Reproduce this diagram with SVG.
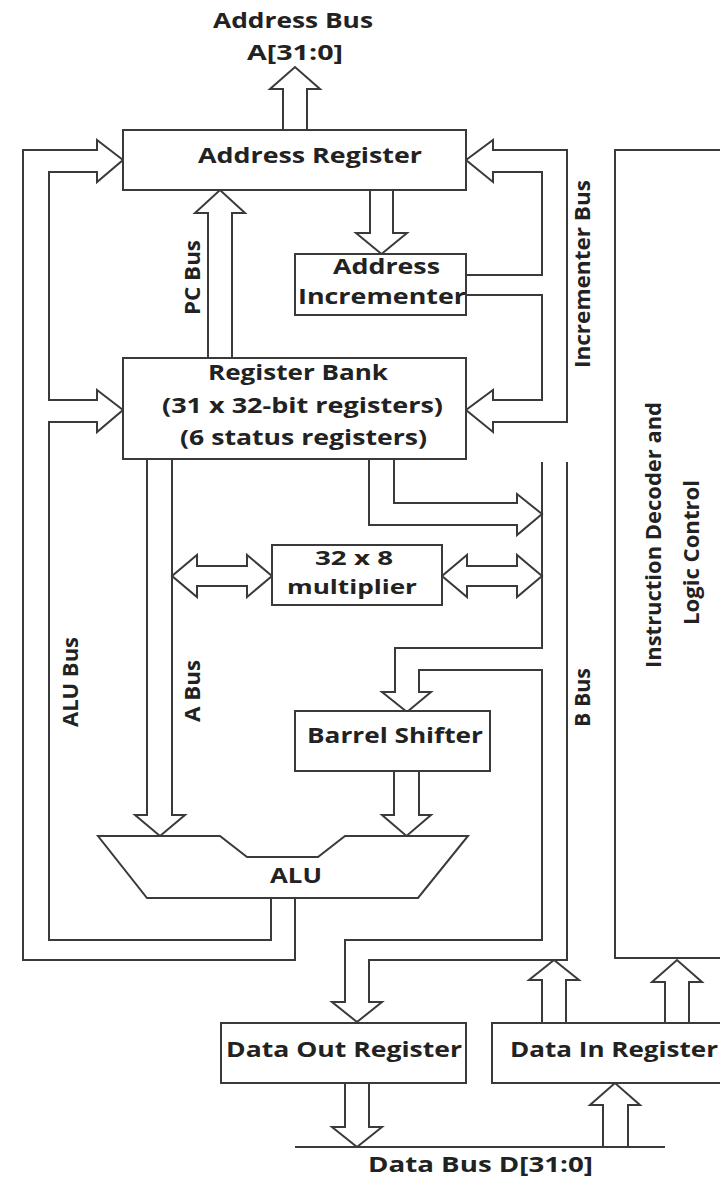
<svg xmlns="http://www.w3.org/2000/svg" width="720" height="1185" viewBox="0 0 720 1185">
<style>
.box{fill:#fff;stroke:#3a3a3a;stroke-width:2}
.ln{fill:none;stroke:#3a3a3a;stroke-width:2;stroke-linejoin:miter}
.dbl{fill:#fff;stroke:#3a3a3a;stroke-width:2}
text{font-family:"Open Sans","DejaVu Sans",sans-serif;font-weight:700;font-size:22px;fill:#222}
.sm{font-size:20px}
</style>
<rect width="720" height="1185" fill="#fff"/>
<g id="connectors">
<path class="ln" d="M283,130 V89 H270 L295,67 L320,89 H307 V130"/>
<path class="ln" d="M295,898 V960 H23 V150 H97 V140 L123,160 L97,182 V172 H49 V400 H97 V390 L123,410 L97,432 V422 H49 V940 H271 V898"/>
<path class="ln" d="M208,358 V213 H195 L220,190 L245,213 H232 V358"/>
<path class="ln" d="M370,190 V233 H356 L381.5,254 L407,233 H393 V190"/>
<path class="ln" d="M466,275 H542 V172 H493 V182 L466,160 L493,140 V150 H567 V422 H493 V432 L466,410 L493,390 V400 H542 V295 H466"/>
<path class="ln" d="M147,459 V815 H135 L160,836 L185,815 H172 V459"/>
<path class="dbl" d="M172,576 L197,555 V566 H247 V555 L272,576 L247,597 V586 H197 V597 Z"/>
<path class="dbl" d="M442,576 L467,555 V566 H517 V555 L542,576 L517,597 V586 H467 V597 Z"/>
<path class="ln" d="M369,459 V525 H517 V535 L542,514 L517,494 V503 H394 V459"/>
<path class="ln" d="M542,462 V648 H395 V692 H382 L407,712 L431,692 H419 V670 H542 V940 H345 V1002 H332 L357,1022 L382,1002 H369 V960 H567 V462"/>
<path class="ln" d="M394,771 V815 H382 L406.5,836 L431,815 H419 V771"/>
<path class="ln" d="M542,1023 V980 H529 L554,960 L579,980 H566 V1023"/>
<path class="ln" d="M665,1023 V982 H652 L677,960 L702,982 H689 V1023"/>
<path class="ln" d="M345,1083 V1127 H332 L357,1147 L382,1127 H369 V1083"/>
<path class="ln" d="M603,1147 V1105 H590 L615,1083 L640,1105 H628 V1147"/>
<path class="ln" d="M295,1147 H665"/>
<text x="213" y="28" textLength="160" lengthAdjust="spacingAndGlyphs">Address Bus</text>
<text x="247" y="60" textLength="96" lengthAdjust="spacingAndGlyphs">A[31:0]</text>
<text transform="translate(200,315) rotate(-90)" textLength="75" lengthAdjust="spacingAndGlyphs">PC Bus</text>
<text transform="translate(590,368) rotate(-90)" textLength="188" lengthAdjust="spacingAndGlyphs">Incrementer Bus</text>
<text transform="translate(78,727) rotate(-90)" textLength="90" lengthAdjust="spacingAndGlyphs">ALU Bus</text>
<text transform="translate(200,722) rotate(-90)" textLength="62" lengthAdjust="spacingAndGlyphs">A Bus</text>
<text transform="translate(590,727) rotate(-90)" textLength="59" lengthAdjust="spacingAndGlyphs">B Bus</text>
<text x="368" y="1172" textLength="225" lengthAdjust="spacingAndGlyphs">Data Bus D[31:0]</text>
</g>
<g id="address-register">
<rect class="box" x="123" y="130" width="343" height="60"/>
<text x="198" y="163" textLength="224" lengthAdjust="spacingAndGlyphs">Address Register</text>
</g>
<g id="address-incrementer">
<rect class="box" x="295" y="254" width="171" height="61"/>
<text x="333" y="274" textLength="107" lengthAdjust="spacingAndGlyphs">Address</text>
<text x="298" y="304" textLength="168" lengthAdjust="spacingAndGlyphs">Incrementer</text>
</g>
<g id="register-bank">
<rect class="box" x="123" y="358" width="343" height="101"/>
<text x="208" y="380" textLength="180" lengthAdjust="spacingAndGlyphs">Register Bank</text>
<text x="162" y="413" textLength="281" lengthAdjust="spacingAndGlyphs">(31 x 32-bit registers)</text>
<text x="180" y="445" textLength="247" lengthAdjust="spacingAndGlyphs">(6 status registers)</text>
</g>
<g id="multiplier">
<rect class="box" x="272" y="545" width="170" height="60"/>
<text class="sm" x="315" y="565" textLength="78" lengthAdjust="spacingAndGlyphs">32 x 8</text>
<text class="sm" x="287" y="594" textLength="130" lengthAdjust="spacingAndGlyphs">multiplier</text>
</g>
<g id="barrel-shifter">
<rect class="box" x="295" y="711" width="195" height="60"/>
<text x="307" y="743" textLength="176" lengthAdjust="spacingAndGlyphs">Barrel Shifter</text>
</g>
<g id="alu">
<polygon class="box" points="98,836 220,836 247,857 318,857 345,836 468,836 418,898 147,898"/>
<text x="270" y="883" textLength="52" lengthAdjust="spacingAndGlyphs">ALU</text>
</g>
<g id="instruction-decoder">
<rect class="box" x="615" y="150" width="130" height="808"/>
<text transform="translate(661,668) rotate(-90)" textLength="266" lengthAdjust="spacingAndGlyphs">Instruction Decoder and</text>
<text transform="translate(699,625) rotate(-90)" textLength="145" lengthAdjust="spacingAndGlyphs">Logic Control</text>
</g>
<g id="data-out-register">
<rect class="box" x="221" y="1023" width="245" height="60"/>
<text x="226" y="1057" textLength="236" lengthAdjust="spacingAndGlyphs">Data Out Register</text>
</g>
<g id="data-in-register">
<rect class="box" x="492" y="1023" width="240" height="60"/>
<text x="510" y="1057" textLength="208" lengthAdjust="spacingAndGlyphs">Data In Register</text>
</g>
</svg>
